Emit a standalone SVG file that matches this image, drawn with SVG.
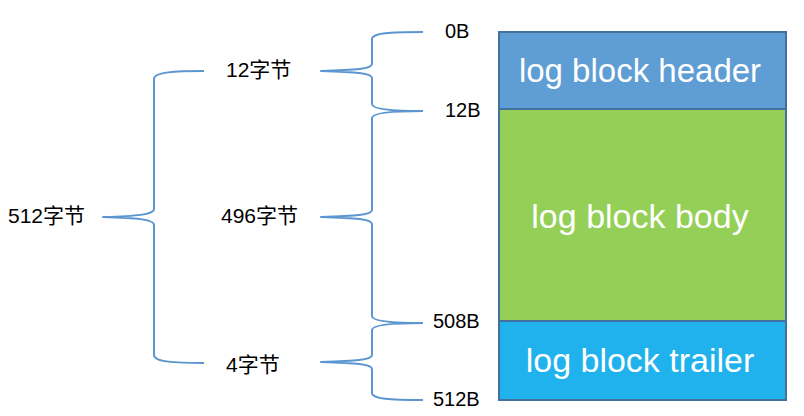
<svg xmlns="http://www.w3.org/2000/svg" width="804" height="416" viewBox="0 0 804 416">
<style>
.brace{fill:none;stroke:#5b96d0;stroke-width:2;stroke-linejoin:round}
.lbl{font-family:"Liberation Sans","Noto Sans CJK SC",sans-serif;font-size:21px;fill:#000}
.off{font-family:"Liberation Sans",sans-serif;font-size:20px;fill:#000}
.blk{stroke:#41719c;stroke-width:2}
.bt{font-family:"Liberation Sans",sans-serif;font-size:34px;fill:#fff;text-anchor:middle}
</style>
<rect width="804" height="416" fill="#fff"/>
<g id="connectors">
<path class="brace" d="M204,71 C175,71 154,72 154,79 L154,209 C154,215 135,216 103,217 C135,218 154,219 154,225 L154,355 C154,362 175,363 204,363"/>
<path class="brace" d="M423,32 C390,32 372,33 372,39 L372,64 C372,69 355,70 321,71 C355,72 372,73 372,78 L372,104 C372,108 385,111 423,111"/>
<path class="brace" d="M423,111 C385,111 372,114 372,118 L372,210 C372,215 355,216 321,217 C355,218 372,219 372,224 L372,316 C372,320 385,323 423,323"/>
<path class="brace" d="M423,323 C385,323 372,326 372,330 L372,355 C372,360 355,361 321,362 C355,363 372,364 372,369 L372,393 C372,399 390,400 423,400"/>
</g>
<g id="label-512">
<text class="lbl" x="8" y="223">512字节</text>
</g>
<g id="label-12">
<text class="lbl" x="226" y="77">12字节</text>
</g>
<g id="label-496">
<text class="lbl" x="221" y="223">496字节</text>
</g>
<g id="label-4">
<text class="lbl" x="226" y="372">4字节</text>
</g>
<g id="offsets">
<text class="off" x="445" y="38">0B</text>
<text class="off" x="445" y="117">12B</text>
<text class="off" x="433" y="328">508B</text>
<text class="off" x="433" y="406">512B</text>
</g>
<g id="header">
<rect class="blk" x="499" y="32" width="287" height="77" fill="#5f9dd5"/>
<text class="bt" x="640" y="82" style="font-size:33px">log block header</text>
</g>
<g id="body">
<rect class="blk" x="499" y="109" width="287" height="212" fill="#94cf57"/>
<text class="bt" x="640" y="228">log block body</text>
</g>
<g id="trailer">
<rect class="blk" x="499" y="321" width="287" height="79" fill="#1fb2ec"/>
<text class="bt" x="640" y="372">log block trailer</text>
</g>
</svg>
